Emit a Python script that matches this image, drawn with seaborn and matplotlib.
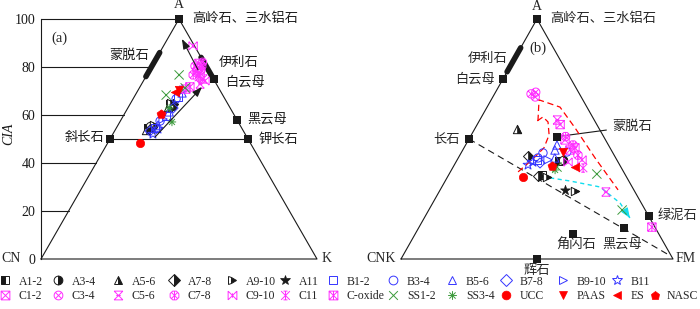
import numpy as np
import pandas as pd
import matplotlib
matplotlib.use("Agg")
import matplotlib.pyplot as plt
import seaborn as sns
from matplotlib.path import Path
from matplotlib.markers import MarkerStyle
from matplotlib.lines import Line2D

# ============================ DATA ============================
SERIES = ["A1-2", "A3-4", "A5-6", "A7-8", "A9-10", "A11",
          "B1-2", "B3-4", "B5-6", "B7-8", "B9-10", "B11",
          "C1-2", "C3-4", "C5-6", "C7-8", "C9-10", "C11", "C-oxide",
          "SS1-2", "SS3-4", "UCC", "PAAS", "ES", "NASC"]

# (a) A-CN-K diagram : (A = CIA, K)
ACNK_A1_2 = [(54.6, 11.5), (64.6, 14.4)]
ACNK_A3_4 = [(55.4, 11.8), (63.8, 15.6)]
ACNK_A5_6 = [(53.8, 11.1), (63.3, 14.4)]
ACNK_A7_8 = [(55.0, 12.7), (64.6, 15.5)]
ACNK_A9_10 = [(55.8, 13.0), (65.0, 14.6)]
ACNK_A11 = [(54.2, 12.8)]
ACNK_B1_2 = [(54.6, 14.0), (59.6, 15.5), (67.5, 15.9)]
ACNK_B3_4 = [(57.5, 14.4), (66.7, 15.6)]
ACNK_B5_6 = [(55.8, 14.5), (61.3, 15.8), (69.2, 16.5)]
ACNK_B7_8 = [(53.3, 12.8), (62.9, 16.4)]
ACNK_B9_10 = [(58.3, 15.1), (70.4, 16.6)]
ACNK_B11 = [(52.1, 14.5), (54.2, 15.3)]
ACNK_C1_2 = [(79.6, 17.1), (77.5, 18.9), (81.5, 16.5)]
ACNK_C3_4 = [(80.4, 15.6), (78.8, 18.6), (82.0, 17.5)]
ACNK_C5_6 = [(75.0, 21.2), (72.9, 21.2)]
ACNK_C7_8 = [(78.3, 17.4), (76.7, 16.8), (80.5, 18.0)]
ACNK_C9_10 = [(88.8, 10.7), (74.2, 22.3)]
ACNK_C11 = [(75.8, 19.3)]
ACNK_C_OXIDE = [(71.7, 18.1), (70.8, 17.1)]
ACNK_SS1_2 = [(76.7, 11.7), (68.3, 11.2), (71.3, 16.6)]
ACNK_SS3_4 = [(57.1, 18.9), (62.9, 15.0)]
ACNK_UCC = [(48.3, 11.7)]
ACNK_PAAS = [(70.4, 14.8)]
ACNK_ES = [(69.6, 13.8)]
ACNK_NASC = [(60.4, 13.3)]

# (b) A-CNK-FM diagram : (A, FM)
AF_A1_2 = [(35.0, 34.3), (40.8, 37.7)]
AF_A3_4 = [(41.3, 38.9)]
AF_A5_6 = [(54.2, 15.5)]
AF_A7_8 = [(42.9, 25.2), (34.6, 33.1)]
AF_A9_10 = [(34.2, 36.6), (28.3, 49.8)]
AF_A11 = [(28.8, 45.9)]
AF_B1_2 = [(41.3, 29.4)]
AF_B3_4 = [(44.2, 30.1), (42.1, 29.3), (44.6, 38.7)]
AF_B5_6 = [(45.4, 33.9), (42.1, 35.5), (47.5, 33.6)]
AF_B7_8 = [(40.0, 31.1)]
AF_B9_10 = [(41.3, 33.4)]
AF_B11 = [(40.4, 28.3), (39.2, 27.1)]
AF_C1_2 = [(49.6, 35.5), (45.4, 39.4), (56.0, 30.5)]
AF_C3_4 = [(68.8, 13.4), (67.5, 15.6), (69.5, 14.8)]
AF_C5_6 = [(57.9, 28.5), (27.9, 61.4)]
AF_C7_8 = [(47.5, 39.5), (43.3, 43.4), (51.0, 35.0)]
AF_C9_10 = [(41.3, 45.9), (40.4, 41.2)]
AF_C11 = [(37.9, 48.0)]
AF_C_OXIDE = [(13.3, 85.6), (46.3, 40.8)]
AF_SS1_2 = [(35.4, 54.3), (20.4, 71.1), (38.3, 38.2)]
AF_SS3_4 = [(37.1, 38.1)]
AF_UCC = [(34.2, 27.8)]
AF_PAAS = [(44.6, 37.3)]
AF_ES = [(38.3, 44.8)]
AF_NASC = [(38.8, 36.1)]

# minerals (a): A, K
ACNK_MIN_A = [100, 75, 58, 50, 50]
ACNK_MIN_K = [0, 25, 42, 50, 0]
ACNK_MONT_A = [76, 86]
ACNK_MONT_K = [0, 0]
ACNK_ILL_A = [75, 84]
ACNK_ILL_K = [25, 16]
ACNK_LABELS = ["高岭石、三水铝石", "蒙脱石", "伊利石", "白云母", "黑云母", "钾长石", "斜长石"]
ACNK_LABEL_A = [100, 86, 84, 75, 58, 50, 50]
ACNK_LABEL_K = [0, 0, 16, 25, 42, 50, 0]
FELDSPAR_LINE_A = [50, 50]
FELDSPAR_LINE_K = [0, 50]
CIA_TICKS = [0, 20, 40, 60, 80, 100]
ARROW1_A = [50.8, 71.7]
ARROW1_K = [15.9, 22.5]
ARROW2_A = [78.8, 91.7]
ARROW2_K = [17.5, 5.2]

# minerals (b): A, FM
AF_MIN_A = [100, 75, 50, 51, 18, 13, 10.4, 0]
AF_MIN_FM = [0, 0, 0, 32, 82, 75.5, 58, 50]
AF_ILL_A = [78, 88]
AF_ILL_FM = [0, 0]
AF_LABELS = ["高岭石、三水铝石", "伊利石", "白云母", "长石", "蒙脱石", "绿泥石", "黑云母", "角闪石", "辉石"]
AF_LABEL_A = [100, 88, 75, 50, 51, 18, 13, 10.4, 0]
AF_LABEL_FM = [0, 0, 0, 0, 32, 82, 75.5, 58, 50]
FSP_FM_LINE_A = [50, 2]
FSP_FM_LINE_FM = [0, 97]
ENV1_A = [36.3, 41.3, 46.3, 51.7, 57.1, 59.2, 57.5]
ENV1_FM = [24.9, 27.5, 29.4, 28.6, 25.5, 22.6, 21.3]
ENV2_A = [57.5, 66.3, 63.3, 54.6, 42.1, 28.8]
ENV2_FM = [21.6, 17.6, 26.8, 36.7, 50.3, 65.4]
TREND_A = [33.8, 32.5, 30.0, 23.3, 17.1]
TREND_FM = [37.9, 45.9, 58.2, 68.9, 75.6]

ACNK = dict(zip(SERIES, [ACNK_A1_2, ACNK_A3_4, ACNK_A5_6, ACNK_A7_8, ACNK_A9_10, ACNK_A11,
                         ACNK_B1_2, ACNK_B3_4, ACNK_B5_6, ACNK_B7_8, ACNK_B9_10, ACNK_B11,
                         ACNK_C1_2, ACNK_C3_4, ACNK_C5_6, ACNK_C7_8, ACNK_C9_10, ACNK_C11, ACNK_C_OXIDE,
                         ACNK_SS1_2, ACNK_SS3_4, ACNK_UCC, ACNK_PAAS, ACNK_ES, ACNK_NASC]))
AF = dict(zip(SERIES, [AF_A1_2, AF_A3_4, AF_A5_6, AF_A7_8, AF_A9_10, AF_A11,
                       AF_B1_2, AF_B3_4, AF_B5_6, AF_B7_8, AF_B9_10, AF_B11,
                       AF_C1_2, AF_C3_4, AF_C5_6, AF_C7_8, AF_C9_10, AF_C11, AF_C_OXIDE,
                       AF_SS1_2, AF_SS3_4, AF_UCC, AF_PAAS, AF_ES, AF_NASC]))

# ============================ STYLE ============================
sns.set_theme(style="white")
plt.rcParams['font.family'] = ['Liberation Serif', 'Noto Sans CJK SC', 'DejaVu Sans']
plt.rcParams['axes.unicode_minus'] = False

BLUE = '#3535ff'
MAG = '#ff30ff'
GREEN = '#3d9b3d'
RED = '#ff0000'
CJK_FS = 9.5


def multi_path(lines):
    verts, codes = [], []
    for ln in lines:
        verts.extend(ln)
        codes.extend([Path.MOVETO] + [Path.LINETO] * (len(ln) - 1))
    return Path(np.array(verts, float), codes)


_t = np.linspace(0, 2 * np.pi, 33)
CIRC = list(zip(np.cos(_t), np.sin(_t)))
_o = np.linspace(np.pi / 8, 2 * np.pi + np.pi / 8, 9)
OCT = list(zip(np.cos(_o), np.sin(_o)))
SQ = [(-1, -1), (1, -1), (1, 1), (-1, 1), (-1, -1)]
XD = [[(-1, -1), (1, 1)], [(-1, 1), (1, -1)]]
XI = [[(-.71, -.71), (.71, .71)], [(-.71, .71), (.71, -.71)]]

P_C12 = multi_path([SQ] + XD)
P_C34 = multi_path([CIRC] + XI)
P_C56 = multi_path(XD + [[(-1, 1), (1, 1)], [(-1, -1), (1, -1)], [(-0.5, 0), (0.5, 0)]])
P_C78 = multi_path([OCT] + XI + [[(0, -0.9), (0, 0.9)]])
P_C910 = multi_path(XD + [[(-1, -1), (-1, 1)], [(1, -1), (1, 1)], [(0, -0.5), (0, 0.5)]])
P_C11 = multi_path(XD + [[(0, -1), (0, 1)], [(-0.45, 1), (0.45, 1)], [(-0.45, -1), (0.45, -1)]])
P_COX = multi_path([SQ] + XD + [[(0, -1), (0, 1)]])
P_X = multi_path(XD)
P_AST = multi_path(XI + [[(0, -1), (0, 1)], [(-1, 0), (1, 0)]])

STYLE = {
    "A1-2": ('half', 's', 'left', 'k'),
    "A3-4": ('half', 'o', 'right', 'k'),
    "A5-6": ('half', '^', 'right', 'k'),
    "A7-8": ('half', 'D', 'right', 'k'),
    "A9-10": ('half', '>', 'right', 'k'),
    "A11": ('filled', '*', None, 'k'),
    "B1-2": ('open', 's', None, BLUE),
    "B3-4": ('open', 'o', None, BLUE),
    "B5-6": ('open', '^', None, BLUE),
    "B7-8": ('open', 'D', None, BLUE),
    "B9-10": ('open', '>', None, BLUE),
    "B11": ('open', '*', None, BLUE),
    "C1-2": ('open', P_C12, None, MAG),
    "C3-4": ('open', P_C34, None, MAG),
    "C5-6": ('open', P_C56, None, MAG),
    "C7-8": ('open', P_C78, None, MAG),
    "C9-10": ('open', P_C910, None, MAG),
    "C11": ('open', P_C11, None, MAG),
    "C-oxide": ('open', P_COX, None, MAG),
    "SS1-2": ('open', P_X, None, GREEN),
    "SS3-4": ('open', P_AST, None, GREEN),
    "UCC": ('filled', 'o', None, RED),
    "PAAS": ('filled', 'v', None, RED),
    "ES": ('filled', '<', None, RED),
    "NASC": ('filled', 'p', None, RED),
}
SIZE = {'*': 55, 'p': 45, 'D': 26}


def tern(A, other):
    A = np.asarray(A, float)
    o = np.asarray(other, float)
    return o + A / 2.0, A


def draw_series(ax, name, pts, z):
    kind, m, fs, c = STYLE[name]
    A = [p[0] for p in pts]
    o = [p[1] for p in pts]
    x, y = tern(A, o)
    df = pd.DataFrame({'x': x, 'y': y})
    s = SIZE.get(m, 36) if isinstance(m, str) else 36
    if name == "SS1-2":
        s = 44
    common = dict(data=df, x='x', y='y', ax=ax, legend=False, clip_on=False)
    if kind == 'half':
        sns.scatterplot(**common, marker=MarkerStyle(m), s=s, facecolor='white',
                        edgecolor='k', linewidth=0.7, zorder=z)
        sns.scatterplot(**common, marker=MarkerStyle(m, fillstyle=fs), s=s, facecolor='k',
                        edgecolor='k', linewidth=0.5, zorder=z + 0.01)
    elif kind == 'filled':
        sns.scatterplot(**common, marker=MarkerStyle(m), s=s, facecolor=c,
                        edgecolor=c, linewidth=0.5, zorder=z)
    else:
        sns.scatterplot(**common, marker=MarkerStyle(m), s=s, facecolor='none',
                        edgecolor=c, linewidth=0.7, zorder=z)


def legend_handle(name):
    kind, m, fs, c = STYLE[name]
    ms = 6.3 if m != '*' else 7.5
    if kind == 'half':
        return Line2D([], [], ls='none', marker=m, fillstyle=fs, ms=ms, mfc='k',
                      markerfacecoloralt='white', mec='k', mew=0.7)
    if kind == 'filled':
        return Line2D([], [], ls='none', marker=m, ms=ms, mfc=c, mec=c, mew=0.5)
    return Line2D([], [], ls='none', marker=m, ms=ms, mfc='none', mec=c, mew=0.7)


W, H = 700, 309
fig = plt.figure(figsize=(W / 100, H / 100), dpi=100)

# ---------------- panel (a) ----------------
ax1 = fig.add_axes([41 / W, 50 / H, 276 / W, 240 / H])
ax1.set_xlim(0, 100)
ax1.set_ylim(0, 100)
ax1.patch.set_alpha(0)
for sp in ['top', 'right', 'bottom']:
    ax1.spines[sp].set_visible(False)
ax1.spines['left'].set_color('k')
ax1.spines['left'].set_linewidth(0.8)
ax1.set_xticks([])
ax1.set_yticks(CIA_TICKS)
ax1.set_yticklabels([str(v) for v in CIA_TICKS], fontsize=10)
ax1.tick_params(axis='y', length=0, pad=4, colors='k')
ax1.set_ylabel('CIA', fontstyle='italic', fontsize=10, color='k')
ax1.yaxis.set_label_coords(-0.092, 0.52)

tx, ty = tern([0, 100, 0, 0], [0, 0, 100, 0])
ax1.plot(tx, ty, color='k', lw=0.8, zorder=2, clip_on=False)
for v in CIA_TICKS[1:]:
    gx, gy = tern([v, v], [0, 0])
    ax1.plot([0, gx[0]], gy, color='k', lw=0.8, zorder=2, clip_on=False)
fx, fy = tern(FELDSPAR_LINE_A, FELDSPAR_LINE_K)
ax1.plot(fx, fy, color='k', lw=0.8, zorder=2)
bx, by = tern(ACNK_MONT_A, ACNK_MONT_K)
ax1.plot(bx, by, color='k', lw=4, solid_capstyle='round', zorder=3)
bx, by = tern(ACNK_ILL_A, ACNK_ILL_K)
ax1.plot(bx, by, color='k', lw=4, solid_capstyle='round', zorder=3)

for i, name in enumerate(SERIES):
    draw_series(ax1, name, ACNK[name], 5 + i * 0.1)

for aa, kk in [(ARROW1_A, ARROW1_K), (ARROW2_A, ARROW2_K)]:
    ax, ay = tern(aa, kk)
    ax1.annotate('', xy=(ax[1], ay[1]), xytext=(ax[0], ay[0]),
                 arrowprops=dict(arrowstyle='-|>,head_length=0.5,head_width=0.18',
                                 color='k', lw=0.8, shrinkA=0, shrinkB=0), zorder=8)

mx, my = tern(ACNK_MIN_A, ACNK_MIN_K)
sns.scatterplot(x=mx, y=my, ax=ax1, marker='s', s=30, color='k', edgecolor='k',
                linewidth=0, zorder=10, clip_on=False, legend=False)

lab_off = [(13, 0, 'left'), (-11, -3, 'right'), (18, -6, 'left'), (12, -3, 'left'),
           (10, 0, 'left'), (11, -1, 'left'), (-6, 1, 'right')]
lx, ly = tern(ACNK_LABEL_A, ACNK_LABEL_K)
for txt, x0, y0, (dx, dy, ha) in zip(ACNK_LABELS, lx, ly, lab_off):
    ax1.annotate(txt, xy=(x0, y0), xytext=(dx, dy), textcoords='offset pixels',
                 ha=ha, va='center', fontsize=CJK_FS, color='k', annotation_clip=False)

ax1.annotate('A', xy=(50, 100), xytext=(0, 14), textcoords='offset pixels',
             ha='center', va='center', fontsize=10, annotation_clip=False)
ax1.annotate('CN', xy=(0, 0), xytext=(-30, 0), textcoords='offset pixels',
             ha='center', va='center', fontsize=10, annotation_clip=False)
ax1.annotate('K', xy=(100, 0), xytext=(10, 1), textcoords='offset pixels',
             ha='center', va='center', fontsize=10, annotation_clip=False)
ax1.text(0.065, 0.92, '(a)', transform=ax1.transAxes, fontsize=10.5,
         ha='center', va='center')

# ---------------- panel (b) ----------------
ax2 = fig.add_axes([401 / W, 50 / H, 272 / W, 240 / H])
ax2.set_xlim(0, 100)
ax2.set_ylim(0, 100)
ax2.axis('off')

tx, ty = tern([0, 100, 0, 0], [0, 0, 100, 0])
ax2.plot(tx, ty, color='k', lw=0.8, zorder=2, clip_on=False)
bx, by = tern(AF_ILL_A, AF_ILL_FM)
ax2.plot(bx, by, color='k', lw=4, solid_capstyle='round', zorder=3)
dx_, dy_ = tern(FSP_FM_LINE_A, FSP_FM_LINE_FM)
ax2.plot(dx_, dy_, color='k', lw=0.8, dashes=(6, 4), zorder=2)
ex, ey = tern(ENV1_A, ENV1_FM)
ax2.plot(ex, ey, color=RED, lw=0.9, dashes=(5, 3), zorder=4)
ex, ey = tern(ENV2_A, ENV2_FM)
ax2.plot(ex, ey, color=RED, lw=0.9, dashes=(5, 3), zorder=4)
cx, cy = tern(TREND_A, TREND_FM)
ax2.plot(cx, cy, color='#11ddee', lw=1.0, dashes=(3, 2.5), zorder=4)
ax2.annotate('', xy=(cx[-1], cy[-1]),
             xytext=(cx[-1] - 0.25 * (cx[-1] - cx[-2]), cy[-1] - 0.25 * (cy[-1] - cy[-2])),
             arrowprops=dict(arrowstyle='-|>,head_length=0.5,head_width=0.2',
                             color='#11ddee', lw=0.8, shrinkA=0, shrinkB=0), zorder=4)

for i, name in enumerate(SERIES):
    draw_series(ax2, name, AF[name], 5 + i * 0.1)

mx, my = tern(AF_MIN_A, AF_MIN_FM)
sns.scatterplot(x=mx, y=my, ax=ax2, marker='s', s=30, color='k', edgecolor='k',
                linewidth=0, zorder=10, clip_on=False, legend=False)

lab_off2 = [(13, 0, 'left'), (-13, -11, 'right'), (-8, 0, 'right'), (-9, -1, 'right'),
            (55, 10, 'left'), (9, 0, 'left'), (-2, -17, 'center'), (3, -11, 'center'),
            (0, -12, 'center')]
lx, ly = tern(AF_LABEL_A, AF_LABEL_FM)
for txt, x0, y0, (dx, dy, ha) in zip(AF_LABELS, lx, ly, lab_off2):
    if txt == "蒙脱石":
        ax2.annotate(txt, xy=(x0, y0), xytext=(dx, dy), textcoords='offset pixels',
                     ha=ha, va='center', fontsize=CJK_FS, annotation_clip=False,
                     arrowprops=dict(arrowstyle='-', color='k', lw=0.8,
                                     shrinkA=2, shrinkB=3))
    else:
        ax2.annotate(txt, xy=(x0, y0), xytext=(dx, dy), textcoords='offset pixels',
                     ha=ha, va='center', fontsize=CJK_FS, annotation_clip=False)

ax2.annotate('A', xy=(50, 100), xytext=(0, 13), textcoords='offset pixels',
             ha='center', va='center', fontsize=10, annotation_clip=False)
ax2.annotate('CNK', xy=(0, 0), xytext=(-5, 0), textcoords='offset pixels',
             ha='right', va='center', fontsize=10, annotation_clip=False)
ax2.annotate('FM', xy=(100, 0), xytext=(3, 0), textcoords='offset pixels',
             ha='left', va='center', fontsize=10, annotation_clip=False)
ax2.text(0.504, 0.879, '(b)', transform=ax2.transAxes, fontsize=10.5,
         ha='center', va='center')

# ---------------- legend (13 columns x 2 rows) ----------------
COL_X = [5, 58, 118, 174, 232, 285, 333, 393, 452, 506, 563, 617, 655]
COL_PAD = [0.68] * 12 + [0.48]
top = SERIES[:12] + [None]
bot = SERIES[12:]
LEG_FS = 8.5
fs_px = LEG_FS * 100 / 72
for i, xc in enumerate(COL_X):
    hs, ls = [], []
    for nm in (top[i], bot[i]):
        if nm is None:
            hs.append(Line2D([], [], ls='none'))
            ls.append(' ')
        else:
            hs.append(legend_handle(nm))
            ls.append(nm)
    fig.legend(hs, ls, loc='center left',
               bbox_to_anchor=((xc - 0.5 * fs_px) / W, 1 - 289 / H),
               frameon=False, borderpad=0, borderaxespad=0, handlelength=1.0,
               handletextpad=COL_PAD[i], labelspacing=0.25, fontsize=LEG_FS)

fig.savefig('out.png', dpi=100)
